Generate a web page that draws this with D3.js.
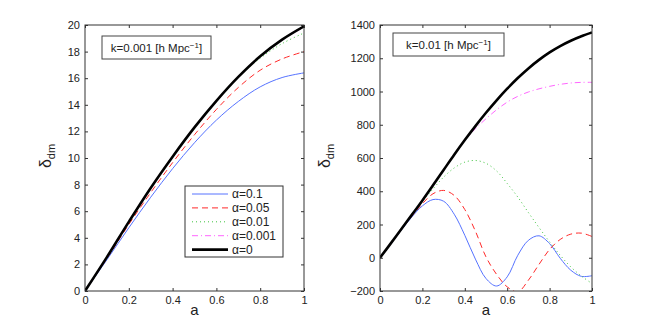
<!DOCTYPE html>
<html>
<head>
<meta charset="utf-8">
<script src="https://cdn.jsdelivr.net/npm/d3@7"></script>
<style>
body { margin: 0; background: #fff; }
svg { font-family: "Liberation Sans", Arial, sans-serif; }
.axis text { font-size: 11px; fill: #222; }
.axis line { stroke: #333; }
.axis path { display: none; }
</style>
</head>
<body>
<div id="chart"></div>
<script>
// legend labels, one per series (same order in both panels)
var seriesNames = ["α=0.1", "α=0.05", "α=0.01", "α=0.001", "α=0"];

// left panel, k=0.001
var aLeft = [0, 0.1, 0.2, 0.3, 0.4, 0.5, 0.6, 0.7, 0.8, 0.9, 1.0];
var left01 = [0, 2.35, 4.75, 7.05, 9.2, 11.15, 12.85, 14.25, 15.35, 16.05, 16.4];
var left005 = [0, 2.45, 5.0, 7.4, 9.65, 11.75, 13.65, 15.3, 16.6, 17.45, 18.0];
var left001 = [0, 2.55, 5.2, 7.75, 10.1, 12.25, 14.25, 16.05, 17.5, 18.6, 19.4];
var left0001 = [0, 2.55, 5.2, 7.75, 10.1, 12.3, 14.3, 16.1, 17.65, 18.9, 19.85];
var left0 = [0, 2.55, 5.2, 7.75, 10.1, 12.3, 14.3, 16.1, 17.65, 18.9, 19.9];
var leftTicksY = [0, 2, 4, 6, 8, 10, 12, 14, 16, 18, 20];

// right panel, k=0.01
var aRight = [0, 0.05, 0.1, 0.15, 0.2, 0.25, 0.3, 0.35, 0.4, 0.45, 0.5,
    0.55, 0.6, 0.65, 0.7, 0.75, 0.8, 0.85, 0.9, 0.95, 1.0];
var right01 = [0, 82, 165, 245, 312, 350, 340, 262, 135, -8, -125,
    -170, -115, 15, 105, 132, 85, -3, -75, -112, -108];
var right005 = [0, 85, 170, 250, 325, 385, 405, 375, 290, 160, 5,
    -100, -175, -205, -135, -40, 50, 110, 142, 148, 128];
var right001 = [0, 85, 172, 256, 338, 414, 485, 540, 575, 585, 568,
    522, 447, 365, 272, 182, 95, 15, -55, -110, -155];
var right0001 = [0, 85, 172, 258, 345, 436, 528, 620, 706, 776, 836,
    890, 936, 971, 997, 1016, 1031, 1043, 1051, 1055, 1055];
var right0 = [0, 85, 172, 258, 345, 436, 528, 620, 708, 792, 872,
    947, 1017, 1081, 1139, 1190, 1235, 1273, 1305, 1332, 1355];
var rightTicksY = [-200, 0, 200, 400, 600, 800, 1000, 1200, 1400];

var ticksX = [0, 0.2, 0.4, 0.6, 0.8, 1];

var styles = [
    {color: "#5673ff", width: 1, dash: null},
    {color: "#ff2a2a", width: 1, dash: "6,4"},
    {color: "#3fc43f", width: 1, dash: "1,3"},
    {color: "#ff66ff", width: 1, dash: "6,3,1,3"},
    {color: "#000", width: 2.6, dash: null}
];

var svg = d3.select("#chart").append("svg")
    .attr("width", 654)
    .attr("height", 327);

function drawPanel(p) {
    var width = p.x1 - p.x0,
        height = p.y1 - p.y0;

    var x = d3.scaleLinear().domain([0, 1]).range([0, width]);
    var y = d3.scaleLinear().domain(p.domainY).range([height, 0]);

    var g = svg.append("g")
        .attr("transform", "translate(" + p.x0 + "," + p.y0 + ")");

    g.append("clipPath")
        .attr("id", p.id)
        .append("rect")
        .attr("width", width)
        .attr("height", height);

    var fmt = d3.format("");

    g.append("g")
        .attr("class", "axis")
        .attr("transform", "translate(0," + height + ")")
        .call(d3.axisBottom(x).tickValues(ticksX).tickFormat(fmt).tickSizeInner(-3).tickSizeOuter(0).tickPadding(5));
    g.append("g")
        .attr("class", "axis")
        .call(d3.axisTop(x).tickValues(ticksX).tickFormat("").tickSizeInner(-3).tickSizeOuter(0));
    g.append("g")
        .attr("class", "axis")
        .call(d3.axisLeft(y).tickValues(p.ticksY).tickFormat(fmt).tickSizeInner(-3).tickSizeOuter(0).tickPadding(5));
    g.append("g")
        .attr("class", "axis")
        .attr("transform", "translate(" + width + ",0)")
        .call(d3.axisRight(y).tickValues(p.ticksY).tickFormat("").tickSizeInner(-3).tickSizeOuter(0));

    var line = d3.line()
        .x(function(d) { return x(d[0]); })
        .y(function(d) { return y(d[1]); })
        .curve(d3.curveCatmullRom);

    var curves = g.append("g").attr("clip-path", "url(#" + p.id + ")");
    p.series.forEach(function(vals, i) {
        var pts = p.a.map(function(a, j) { return [a, vals[j]]; });
        curves.append("path")
            .attr("d", line(pts))
            .attr("fill", "none")
            .attr("stroke", styles[i].color)
            .attr("stroke-width", styles[i].width)
            .attr("stroke-dasharray", styles[i].dash);
    });

    g.append("rect")
        .attr("width", width)
        .attr("height", height)
        .attr("fill", "none")
        .attr("stroke", "#333")
        .attr("stroke-width", 1);

    // k label box
    var kb = g.append("g")
        .attr("transform", "translate(" + p.box[0] + "," + p.box[1] + ")");
    kb.append("rect")
        .attr("width", p.box[2])
        .attr("height", 23)
        .attr("fill", "#fff")
        .attr("stroke", "#444");
    var kt = kb.append("text")
        .attr("x", p.box[2] / 2)
        .attr("y", 16)
        .attr("text-anchor", "middle")
        .style("font-size", "11.5px")
        .attr("fill", "#222");
    kt.append("tspan").text(p.kText + " [h Mpc");
    kt.append("tspan").attr("dy", -4).style("font-size", "8px").text("−1");
    kt.append("tspan").attr("dy", 4).text("]");

    // axis labels
    g.append("text")
        .attr("x", width / 2)
        .attr("y", height + 24)
        .attr("text-anchor", "middle")
        .style("font-size", "15px")
        .attr("fill", "#222")
        .text("a");

    var yl = g.append("text")
        .attr("transform", "translate(" + p.labelX + "," + (height / 2 - 2) + ") rotate(-90)")
        .attr("text-anchor", "middle")
        .attr("fill", "#222");
    yl.append("tspan").style("font-size", "16px").text("δ");
    yl.append("tspan").attr("dy", 4).style("font-size", "11px").text("dm");

    return {x: x, y: y, g: g};
}

drawPanel({
    id: "clipL", x0: 85, x1: 304, y0: 25, y1: 291,
    domainY: [0, 20], ticksY: leftTicksY, a: aLeft,
    series: [left01, left005, left001, left0001, left0],
    box: [17, 11, 109], kText: "k=0.001", labelX: -34
});

drawPanel({
    id: "clipR", x0: 380, x1: 592, y0: 25, y1: 291,
    domainY: [-200, 1400], ticksY: rightTicksY, a: aRight,
    series: [right01, right005, right001, right0001, right0],
    box: [13, 8, 111], kText: "k=0.01", labelX: -50
});

// legend in left panel
var legend = svg.append("g")
    .attr("transform", "translate(185,186)");
legend.append("rect")
    .attr("width", 98)
    .attr("height", 71)
    .attr("fill", "#fff")
    .attr("stroke", "#333");

var item = legend.selectAll(".legend")
    .data(seriesNames)
    .enter().append("g")
    .attr("class", "legend")
    .attr("transform", function(d, i) {
        return "translate(0," + (8 + i * 13.9) + ")";
    });

item.append("line")
    .attr("x1", 7)
    .attr("x2", 43)
    .attr("stroke", function(d, i) { return styles[i].color; })
    .attr("stroke-width", function(d, i) { return styles[i].width; })
    .attr("stroke-dasharray", function(d, i) { return styles[i].dash; });

item.append("text")
    .attr("x", 47)
    .attr("dy", "0.35em")
    .style("font-size", "12px")
    .attr("fill", "#222")
    .text(function(d) { return d; });
</script>
</body>
</html>
